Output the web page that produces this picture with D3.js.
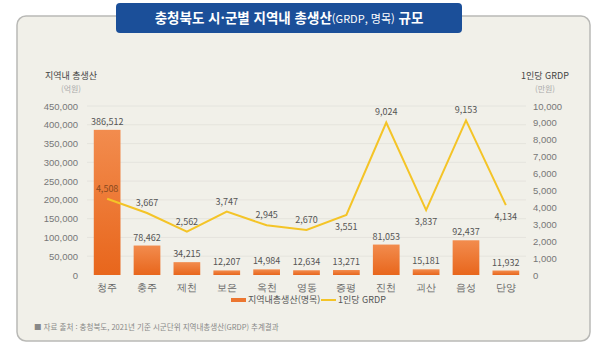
<!DOCTYPE html>
<html lang="ko">
<head>
<meta charset="utf-8">
<script src="https://cdn.jsdelivr.net/npm/d3@7"></script>
<style>
  html, body { margin: 0; padding: 0; background: #fff; }
  svg { display: block; font-family: "Noto Sans CJK KR", "Noto Sans", sans-serif; }
</style>
</head>
<body>
<svg id="chart" width="600" height="348"></svg>
<script>
const regions = ['청주', '충주', '제천', '보은', '옥천', '영동', '증평', '진천', '괴산', '음성', '단양'];
const grdp = [386512, 78462, 34215, 12207, 14984, 12634, 13271, 81053, 15181, 92437, 11932];
const perCapita = [4508, 3667, 2562, 3747, 2945, 2670, 3551, 9024, 3837, 9153, 4134];
// labels of the per-capita line that sit under the point
const labelBelow = ['증평', '괴산', '단양'];
const leftTicks = [0, 50000, 100000, 150000, 200000, 250000, 300000, 350000, 400000, 450000];
const rightTicks = [0, 1000, 2000, 3000, 4000, 5000, 6000, 7000, 8000, 9000, 10000];

const svg = d3.select('#chart');
const fmt = d3.format(',');

// gradient for the bars
const defs = svg.append('defs');
const grad = defs.append('linearGradient')
  .attr('id', 'barGrad').attr('x1', 0).attr('y1', 0).attr('x2', 0).attr('y2', 1);
grad.append('stop').attr('offset', '0%').attr('stop-color', '#f28c4e');
grad.append('stop').attr('offset', '100%').attr('stop-color', '#e8661c');

// panel
svg.append('rect')
  .attr('x', 17).attr('y', 16).attr('width', 573).attr('height', 325)
  .attr('rx', 9)
  .attr('fill', '#f1f0e9')
  .attr('stroke', '#b9b9b6').attr('stroke-width', 1.5);

// title box
svg.append('rect')
  .attr('x', 116).attr('y', 3).attr('width', 346).attr('height', 30)
  .attr('rx', 4)
  .attr('fill', '#1b4f99');
const title = svg.append('text')
  .attr('x', 289).attr('y', 23)
  .attr('text-anchor', 'middle')
  .attr('fill', '#fff')
  .attr('font-weight', 700)
  .attr('font-size', 13.5);
title.append('tspan').text('충청북도 시·군별 지역내 총생산');
title.append('tspan').attr('font-weight', 400).attr('font-size', 11).text('(GRDP, 명목)');
title.append('tspan').text(' 규모');

const plot = { left: 87, right: 526, top: 106, bottom: 275 };

const x = d3.scaleBand()
  .domain(regions)
  .range([plot.left, plot.right])
  .paddingInner(0.33)
  .paddingOuter(0.17);

const yL = d3.scaleLinear().domain([0, 450000]).range([plot.bottom, plot.top]);
const yR = d3.scaleLinear().domain([0, 10000]).range([plot.bottom, plot.top]);

// grid lines
svg.append('g')
  .selectAll('line')
  .data(leftTicks.slice(1))
  .join('line')
  .attr('x1', plot.left).attr('x2', plot.right)
  .attr('y1', d => yL(d)).attr('y2', d => yL(d))
  .attr('stroke', '#e2e1da').attr('stroke-width', 0.8);

// left axis
const axL = svg.append('g')
  .attr('transform', `translate(${plot.left - 9},0)`)
  .call(d3.axisLeft(yL).tickValues(leftTicks).tickFormat(fmt).tickSize(0).tickPadding(0));
axL.select('.domain').remove();
axL.selectAll('text').attr('fill', '#777').attr('font-size', 9.5).style('font-family', 'inherit');

// right axis
const axR = svg.append('g')
  .attr('transform', `translate(${plot.right + 7},0)`)
  .call(d3.axisRight(yR).tickValues(rightTicks).tickFormat(fmt).tickSize(0).tickPadding(0));
axR.select('.domain').remove();
axR.selectAll('text').attr('fill', '#777').attr('font-size', 9.5).style('font-family', 'inherit');

// bottom axis labels
const axB = svg.append('g')
  .attr('transform', `translate(0,${plot.bottom + 7})`)
  .call(d3.axisBottom(x).tickSize(0).tickPadding(2));
axB.select('.domain').remove();
axB.selectAll('text').attr('fill', '#666').attr('font-size', 9.5).style('font-family', 'inherit');

// axis titles
svg.append('text').attr('x', 71).attr('y', 79).attr('text-anchor', 'middle')
  .attr('fill', '#444').attr('font-size', 9).text('지역내 총생산');
svg.append('text').attr('x', 71).attr('y', 92).attr('text-anchor', 'middle')
  .attr('fill', '#aaa').attr('font-size', 8).text('(억원)');
svg.append('text').attr('x', 545).attr('y', 79).attr('text-anchor', 'middle')
  .attr('fill', '#444').attr('font-size', 9).text('1인당 GRDP');
svg.append('text').attr('x', 545).attr('y', 92).attr('text-anchor', 'middle')
  .attr('fill', '#aaa').attr('font-size', 8).text('(만원)');

// bars
svg.append('g')
  .selectAll('rect')
  .data(regions)
  .join('rect')
  .attr('x', d => x(d))
  .attr('y', (d, i) => yL(grdp[i]))
  .attr('width', x.bandwidth())
  .attr('height', (d, i) => plot.bottom - yL(grdp[i]))
  .attr('fill', 'url(#barGrad)');

svg.append('g')
  .selectAll('text')
  .data(regions)
  .join('text')
  .attr('x', d => x(d) + x.bandwidth() / 2)
  .attr('y', (d, i) => yL(grdp[i]) - 5)
  .attr('text-anchor', 'middle')
  .attr('fill', '#555').attr('font-size', 9)
  .text((d, i) => fmt(grdp[i]));

// per-capita line
const line = d3.line()
  .x((d, i) => x(regions[i]) + x.bandwidth() / 2)
  .y(d => yR(d));

svg.append('path')
  .datum(perCapita)
  .attr('d', line)
  .attr('fill', 'none')
  .attr('stroke', '#f4c427')
  .attr('stroke-width', 2)
  .attr('stroke-linejoin', 'miter');

svg.append('g')
  .selectAll('text')
  .data(regions)
  .join('text')
  .attr('x', d => x(d) + x.bandwidth() / 2)
  .attr('y', (d, i) => labelBelow.includes(d) ? yR(perCapita[i]) + 15 : yR(perCapita[i]) - 7)
  .attr('text-anchor', 'middle')
  .attr('fill', (d, i) => i === 0 ? '#8a4a1e' : '#555')
  .attr('font-size', 9)
  .text((d, i) => fmt(perCapita[i]));

// legend
const legend = svg.append('g').attr('transform', 'translate(0,300)');
legend.append('rect').attr('x', 231).attr('y', -2).attr('width', 15).attr('height', 4).attr('fill', '#ec7630');
legend.append('text').attr('x', 248).attr('y', 3).attr('fill', '#555').attr('font-size', 9).text('지역내총생산(명목)');
legend.append('line').attr('x1', 321).attr('x2', 336).attr('y1', 0).attr('y2', 0)
  .attr('stroke', '#f4c427').attr('stroke-width', 2);
legend.append('text').attr('x', 338).attr('y', 3).attr('fill', '#555').attr('font-size', 9).text('1인당 GRDP');

// source note
svg.append('text').attr('x', 34).attr('y', 330)
  .attr('fill', '#888').attr('font-size', 7.5)
  .text('■ 자료 출처 : 충청북도, 2021년 기준 시군단위 지역내총생산(GRDP) 추계결과');
</script>
</body>
</html>
